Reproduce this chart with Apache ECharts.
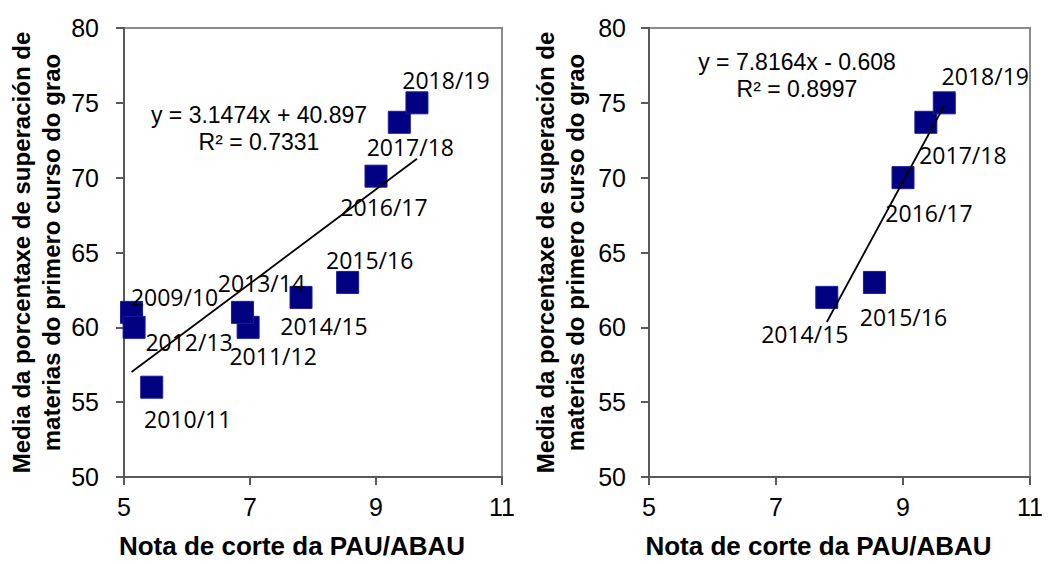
<!DOCTYPE html>
<html>
<head>
<meta charset="utf-8">
<script src="https://cdn.jsdelivr.net/npm/echarts@6/dist/echarts.min.js"></script>
<style>
html,body{margin:0;padding:0;background:#fff;}
#chart{width:1051px;height:564px;}
</style>
</head>
<body>
<div id="chart"></div>
<script>
// ---- Data ----
const leftYears = ['2009/10','2010/11','2011/12','2012/13','2013/14','2014/15','2015/16','2016/17','2017/18','2018/19'];
const leftX     = [5.12, 5.44, 6.97, 5.16, 6.88, 7.81, 8.55, 9.00, 9.37, 9.65];
const leftY     = [61.0, 56.0, 60.0, 60.0, 61.0, 62.0, 63.0, 70.1, 73.7, 75.0];

const rightYears = ['2014/15','2015/16','2016/17','2017/18','2018/19'];
const rightX     = [7.80, 8.55, 9.00, 9.36, 9.65];
const rightY     = [62.0, 63.0, 70.0, 73.7, 75.0];

// trend line coefficients as printed on the chart
const leftSlope = 3.1474, leftIntercept = 40.897, leftR2 = '0.7331';
const rightSlope = 7.8164, rightIntercept = -0.608, rightR2 = '0.8997';

const xTicks = [5, 7, 9, 11];
const yTicks = [50, 55, 60, 65, 70, 75, 80];
const xTitle = 'Nota de corte da PAU/ABAU';
const yTitle = 'Media da porcentaxe de superación de\nmaterias do primero curso do grao';

// ---- label layout (pixel offsets, style only) ----
const leftLabelOffsets = [[43,-15],[36,32],[25,29],[55,15],[19,-29],[23,29],[22,-22],[8,31],[11,25],[29,-23]];
const rightLabelOffsets = [[-22,37],[29,35],[26,35],[37,33],[41,-27]];

const NAVY = '#000080';
const AXIS = '#595959';
const labelFont = '"Open Sans", "Noto Sans", sans-serif';
const arial = '"Liberation Sans", Arial, sans-serif';

function pts(xs, ys, names) {
  return xs.map((x, i) => ({ name: names[i], value: [x, ys[i]] }));
}
function trend(xs, m, b) {
  const lo = Math.min(...xs), hi = Math.max(...xs);
  return [[lo, m * lo + b], [hi, m * hi + b]];
}

function xAxisCfg(gi) {
  return {
    gridIndex: gi, type: 'value', min: 5, max: 11, interval: 2,
    axisLine: { show: true, lineStyle: { color: AXIS, width: 2 } },
    axisTick: { show: true, length: 8, inside: false, lineStyle: { color: AXIS, width: 2 } },
    axisLabel: { fontSize: 25, color: '#000', fontFamily: arial, margin: 17,
      formatter: v => (xTicks.indexOf(v) >= 0 ? String(v) : '') },
    splitLine: { show: false },
    name: xTitle, nameLocation: 'middle', nameGap: 56,
    nameTextStyle: { fontSize: 26, lineHeight: 26, fontWeight: 'bold', color: '#000', fontFamily: arial, padding: [0, 42, 0, 0] }
  };
}
function yAxisCfg(gi, margin, gap) {
  return {
    gridIndex: gi, type: 'value', min: 50, max: 80, interval: 5,
    axisLine: { show: true, lineStyle: { color: AXIS, width: 2 } },
    axisTick: { show: true, length: 8, inside: false, lineStyle: { color: AXIS, width: 2 } },
    axisLabel: { fontSize: 25, color: '#000', fontFamily: arial, margin: margin,
      formatter: v => (yTicks.indexOf(v) >= 0 ? String(v) : '') },
    splitLine: { show: false },
    name: yTitle, nameLocation: 'middle', nameRotate: 90, nameGap: gap,
    nameTextStyle: { fontSize: 24, fontWeight: 'bold', color: '#000', fontFamily: arial, lineHeight: 30, align: 'center' }
  };
}

function scatterSeries(gi, xs, ys, names, offs) {
  return {
    type: 'scatter', xAxisIndex: gi, yAxisIndex: gi, symbol: 'rect', symbolSize: 22,
    itemStyle: { color: NAVY, borderColor: '#1a1aa0', borderWidth: 1, opacity: 1 },
    label: { show: true, position: 'inside', formatter: p => p.name,
      fontSize: 23, color: '#000', fontFamily: labelFont },
    labelLayout: p => ({ dx: offs[p.dataIndex][0], dy: offs[p.dataIndex][1], hideOverlap: false }),
    z: 2,
    data: pts(xs, ys, names)
  };
}

const option = {
  animation: false,
  backgroundColor: '#fff',
  grid: [
    { left: 124, top: 28, width: 378, height: 449, show: true, borderColor: '#8c8c8c', borderWidth: 2,
      backgroundColor: 'transparent', containLabel: false, outerBoundsMode: 'none' },
    { left: 649, top: 28, width: 381, height: 449, show: true, borderColor: '#8c8c8c', borderWidth: 2,
      backgroundColor: 'transparent', containLabel: false, outerBoundsMode: 'none' }
  ],
  xAxis: [xAxisCfg(0), xAxisCfg(1)],
  yAxis: [yAxisCfg(0, 25, 58), yAxisCfg(1, 23, 59)],
  graphic: [
    { type: 'text', x: 259, y: 101, style: { text: 'y = ' + leftSlope + 'x + ' + leftIntercept + '\nR² = ' + leftR2,
      font: '23px ' + arial, fill: '#000', align: 'center', textAlign: 'center', lineHeight: 27 } },
    { type: 'text', x: 797, y: 48, style: { text: 'y = ' + rightSlope + 'x - ' + Math.abs(rightIntercept) + '\nR² = ' + rightR2,
      font: '23px ' + arial, fill: '#000', align: 'center', textAlign: 'center', lineHeight: 27 } }
  ],
  series: [
    {
      type: 'line', xAxisIndex: 0, yAxisIndex: 0, data: trend(leftX, leftSlope, leftIntercept),
      symbol: 'none', lineStyle: { color: '#000', width: 1.8 }, z: 3, silent: true
    },
    {
      type: 'line', xAxisIndex: 1, yAxisIndex: 1, data: trend(rightX, rightSlope, rightIntercept),
      symbol: 'none', lineStyle: { color: '#000', width: 1.8 }, z: 3, silent: true
    },
    scatterSeries(0, leftX, leftY, leftYears, leftLabelOffsets),
    scatterSeries(1, rightX, rightY, rightYears, rightLabelOffsets)
  ]
};

const chart = echarts.init(document.getElementById('chart'), null, { renderer: 'svg' });
chart.setOption(option);
</script>
</body>
</html>
